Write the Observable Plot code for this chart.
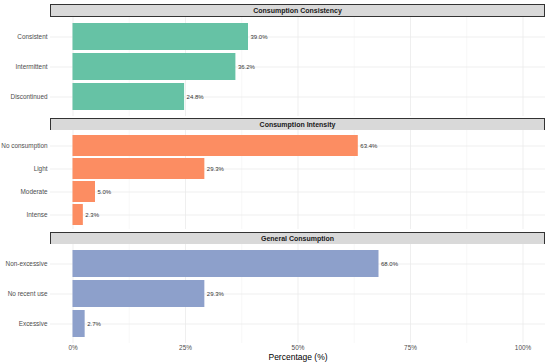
<!DOCTYPE html>
<html>
<head>
<meta charset="utf-8">
<script src="https://cdn.jsdelivr.net/npm/d3@7"></script>
<script src="https://cdn.jsdelivr.net/npm/@observablehq/plot@0.6"></script>
<style>
  html, body { margin: 0; padding: 0; background: white; }
  #chart { position: relative; width: 550px; height: 362px; font-family: "Liberation Sans", Arial, sans-serif; }
  .strip { position: absolute; left: 50px; width: 495px; height: 13px; box-sizing: border-box;
           border: 1px solid #333; background: #d9d9d9; font-weight: bold; font-size: 7px;
           color: #1a1a1a; text-align: center; line-height: 11px; }
  .panel { position: absolute; left: 0; }
</style>
</head>
<body>
<div id="chart"></div>
<script>
const panelTitles = ["Consumption Consistency", "Consumption Intensity", "General Consumption"];
const consistencyCats = ["Consistent", "Intermittent", "Discontinued"];
const consistencyVals = [39.0, 36.2, 24.8];
const intensityCats = ["No consumption", "Light", "Moderate", "Intense"];
const intensityVals = [63.4, 29.3, 5.0, 2.3];
const generalCats = ["Non-excessive", "No recent use", "Excessive"];
const generalVals = [68.0, 29.3, 2.7];
const panelColors = ["#66c2a5", "#fc8d62", "#8da0cb"];
const majorTicks = [0, 25, 50, 75, 100];
const minorTicks = [12.5, 37.5, 62.5, 87.5];

const chart = document.getElementById("chart");

const layout = [
  {stripTop: 4, panelTop: 17},
  {stripTop: 118, panelTop: 130},
  {stripTop: 232, panelTop: 244}
];

const panels = [
  {title: panelTitles[0], cats: consistencyCats, vals: consistencyVals, color: panelColors[0]},
  {title: panelTitles[1], cats: intensityCats, vals: intensityVals, color: panelColors[1]},
  {title: panelTitles[2], cats: generalCats, vals: generalVals, color: panelColors[2]}
];

panels.forEach((p, i) => {
  const last = i === panels.length - 1;
  const data = p.cats.map((c, j) => ({cat: c, value: p.vals[j]}));
  const strip = document.createElement("div");
  strip.className = "strip";
  strip.style.top = layout[i].stripTop + "px";
  strip.textContent = p.title;
  chart.appendChild(strip);

  const svg = Plot.plot({
    width: 550,
    height: last ? 118 : 99,
    marginLeft: 50,
    marginRight: 5,
    marginTop: 0,
    marginBottom: last ? 19 : 0,
    style: {fontFamily: "'Liberation Sans', Arial, sans-serif", fontSize: "6.4px", color: "#4d4d4d", background: "white", overflow: "visible"},
    x: {domain: [-5, 105]},
    y: {domain: p.cats, paddingInner: 0.1, paddingOuter: 0.15},
    marks: [
      Plot.ruleX(minorTicks, {stroke: "#f3f3f3", strokeWidth: 0.6}),
      Plot.ruleX(majorTicks, {stroke: "#ebebeb", strokeWidth: 0.8}),
      Plot.gridY({stroke: "#ebebeb", strokeOpacity: 1, strokeWidth: 0.8}),
      Plot.barX(data, {x: "value", y: "cat", fill: p.color}),
      Plot.text(data, {x: "value", y: "cat", text: d => d.value.toFixed(1) + "%", dx: 2, textAnchor: "start", fontSize: 6, fill: "#333"}),
      Plot.axisY({tickSize: 0, tickPadding: 3, label: null}),
      last
        ? Plot.axisX(majorTicks, {tickSize: 0, tickPadding: 2, tickFormat: d => d + "%", label: "Percentage (%)", labelAnchor: "center", labelArrow: "none", labelOffset: 16})
        : Plot.axisX({ticks: [], label: null})
    ]
  });
  svg.classList.add("panel");
  svg.style.position = "absolute";
  svg.style.top = layout[i].panelTop + "px";
  chart.appendChild(svg);
});

// axis label styling
chart.querySelectorAll("svg [aria-label='x-axis label'] text").forEach(t => {
  t.setAttribute("font-size", "8.5px");
  t.setAttribute("fill", "#000");
});
</script>
</body>
</html>
